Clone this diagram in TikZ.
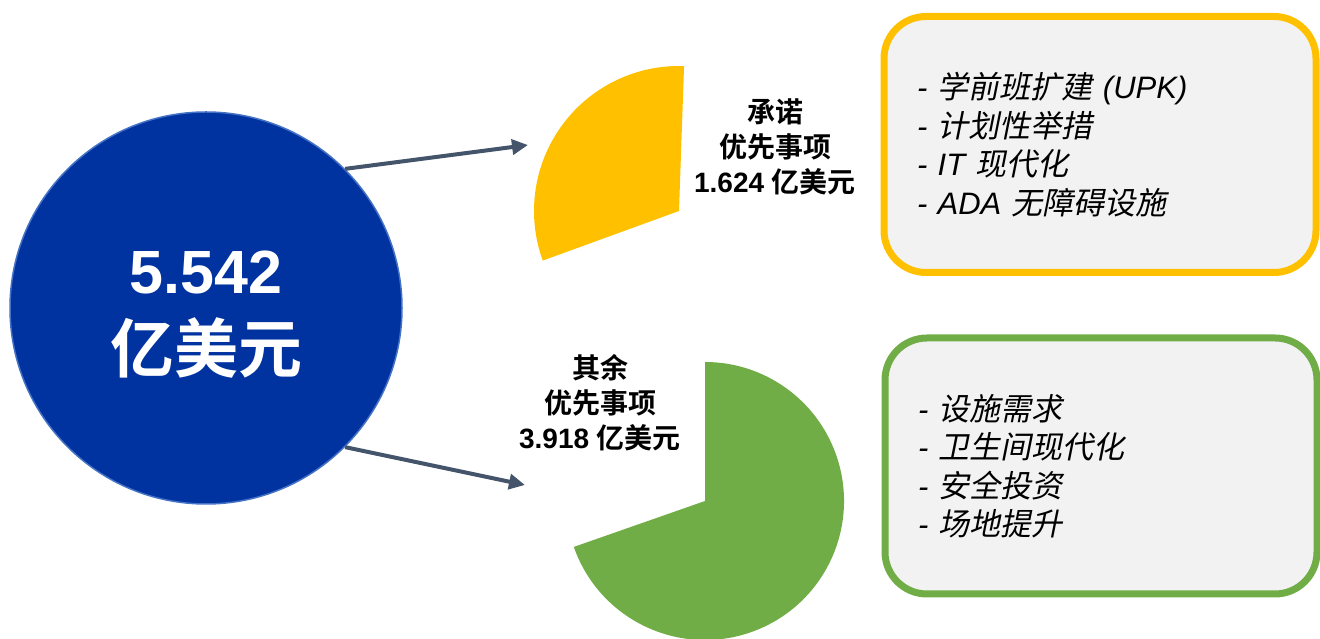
\documentclass[tikz,border=0pt]{standalone}
\usepackage{fontspec}
\setmainfont{Liberation Sans}
\newfontfamily\zhfont[BoldFont={Noto Sans CJK SC Bold}]{Noto Sans CJK SC}
\newfontfamily\zhslant[FakeSlant=0.2]{Noto Sans CJK SC}
\newcommand{\zh}[1]{{\zhfont #1}}
\newcommand{\zhi}[1]{{\zhslant #1}}
\usepackage{tikz}
\usetikzlibrary{arrows.meta,positioning}
\definecolor{navy}{RGB}{0,51,160}
\definecolor{navyedge}{RGB}{68,114,196}
\definecolor{pieyellow}{RGB}{255,192,0}
\definecolor{piegreen}{RGB}{112,173,71}
\definecolor{slate}{RGB}{68,84,106}
\definecolor{boxgray}{RGB}{242,242,242}

\begin{document}
\begin{tikzpicture}[x=1pt,y=1pt]
\tikzstyle{connector}=[draw=slate,line width=4pt,-{Triangle[length=16pt,width=15pt]}]
\tikzstyle{listbox}=[rounded corners=42pt,line width=7pt,fill=boxgray,text width=366pt,
    inner xsep=33pt,minimum height=256pt,align=left,font=\fontsize{31}{38.5}\selectfont\itshape]
\tikzstyle{pielabel}=[align=center,font=\fontsize{28}{35}\selectfont\bfseries]
\tikzstyle{bigtext}=[text=white,anchor=base,font=\bfseries]
\useasboundingbox (0,0) rectangle (1320,639);
\node[circle,fill=navy,draw=navyedge,line width=1.5pt,minimum size=392pt] (total) at (206,331) {};
\node[bigtext] (amount) at (206,345) {\fontsize{61}{61}\selectfont 5.542};
\node[bigtext] (unit) at (206,266) {\fontsize{64}{64}\selectfont\zh{亿美元}};
% pie pieces
\coordinate (ycen) at (679,428);
\coordinate (gcen) at (705,138);
\fill[pieyellow] (ycen) -- ++(88:145) arc[start angle=88,end angle=200,radius=145] -- cycle;
\fill[piegreen] (gcen) -- ++(199.3:139) arc[start angle=199.3,end angle=450,radius=139] -- cycle;
\node[pielabel] (pledge) at (775,492) {\zh{承诺}\\\zh{优先事项}\\1.624 \zh{亿美元}};
\node[pielabel] (other) at (600,236) {\zh{其余}\\\zh{优先事项}\\3.918 \zh{亿美元}};
% lists
\node[listbox,draw=pieyellow] (pledgelist) at (1100,494.5)
    {- \zhi{学前班扩建} (UPK)\\- \zhi{计划性举措}\\- IT \zhi{现代化}\\- ADA \zhi{无障碍设施}};
\node[listbox,draw=piegreen] (otherlist) at (1101,173)
    {- \zhi{设施需求}\\- \zhi{卫生间现代化}\\- \zhi{安全投资}\\- \zhi{场地提升}};
% arrows
\coordinate (ytip) at (528,494);
\coordinate (gtip) at (525,154);
\draw[connector] (total.45) -- (ytip);
\draw[connector] (total.-45) -- (gtip);
\end{tikzpicture}
\end{document}
